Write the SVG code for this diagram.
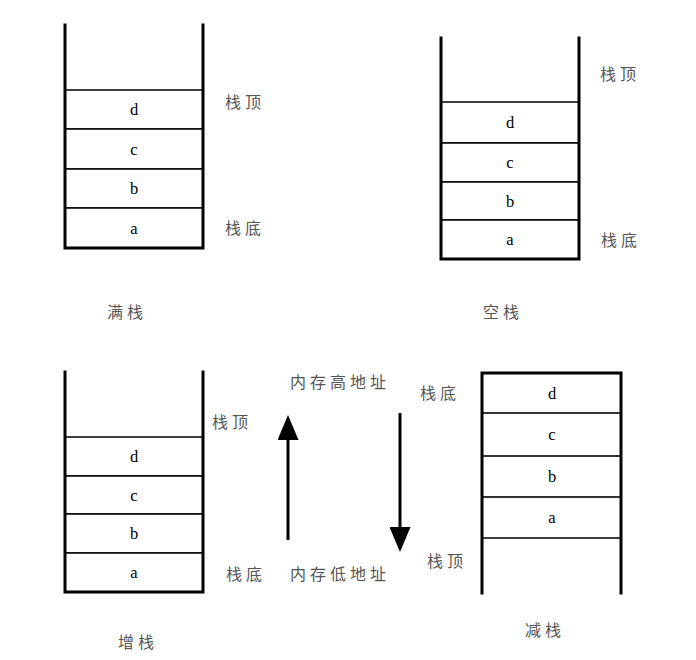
<svg xmlns="http://www.w3.org/2000/svg" width="696" height="660" viewBox="0 0 696 660">
<defs>
<style>
.wall{stroke:#000;stroke-width:3;fill:none;stroke-linecap:square}
.cell{fill:#fff;stroke:#000;stroke-width:1.5}
.sep{stroke:#333;stroke-width:2.2}
.let{font-family:"Liberation Serif","Times New Roman",serif;font-size:16.5px;fill:#000;text-anchor:middle}
.lab{font-family:"Noto Sans CJK SC","Noto Sans CJK JP",sans-serif;font-size:16px;fill:#555;letter-spacing:4px}
.arr{stroke:#000;stroke-width:3;fill:none}
</style>
<marker id="head" viewBox="0 0 25 21" markerWidth="25" markerHeight="21" refX="0" refY="10.5" orient="auto" markerUnits="userSpaceOnUse">
<path d="M0,0 L25,10.5 L0,21 z" fill="#000"/>
</marker>
</defs>
<rect width="696" height="660" fill="#fff"/>

<g id="full-stack">
<rect class="cell" x="65" y="90" width="138" height="39"/>
<rect class="cell" x="65" y="129" width="138" height="40"/>
<rect class="cell" x="65" y="169" width="138" height="39"/>
<rect class="cell" x="65" y="208" width="138" height="40"/>
<path class="wall" d="M65,25 V248 H203 V25"/>
<text class="let" x="134" y="115">d</text>
<text class="let" x="134" y="155">c</text>
<text class="let" x="134" y="194">b</text>
<text class="let" x="134" y="234">a</text>
<text class="lab" x="225" y="108">栈顶</text>
<text class="lab" x="225" y="234">栈底</text>
<text class="lab" x="107" y="318">满栈</text>
</g>

<g id="empty-stack">
<rect class="cell" x="441" y="102" width="138" height="41"/>
<rect class="cell" x="441" y="143" width="138" height="39"/>
<rect class="cell" x="441" y="182" width="138" height="38"/>
<rect class="cell" x="441" y="220" width="138" height="39"/>
<path class="wall" d="M441,38 V259 H579 V38"/>
<text class="let" x="510" y="128">d</text>
<text class="let" x="510" y="168">c</text>
<text class="let" x="510" y="207">b</text>
<text class="let" x="510" y="245">a</text>
<text class="lab" x="600" y="80">栈顶</text>
<text class="lab" x="601" y="246">栈底</text>
<text class="lab" x="483" y="318">空栈</text>
</g>

<g id="ascending-stack">
<rect class="cell" x="65" y="437" width="138" height="39"/>
<rect class="cell" x="65" y="476" width="138" height="38"/>
<rect class="cell" x="65" y="514" width="138" height="39"/>
<rect class="cell" x="65" y="553" width="138" height="39"/>
<path class="wall" d="M65,372 V592 H203 V372"/>
<text class="let" x="134" y="462">d</text>
<text class="let" x="134" y="501">c</text>
<text class="let" x="134" y="539">b</text>
<text class="let" x="134" y="578">a</text>
<text class="lab" x="212" y="428">栈顶</text>
<text class="lab" x="226" y="580">栈底</text>
<text class="lab" x="118" y="648">增栈</text>
</g>

<g id="descending-stack">
<rect class="cell" x="482" y="373" width="139" height="40"/>
<rect class="cell" x="482" y="413" width="139" height="43"/>
<rect class="cell" x="482" y="456" width="139" height="41"/>
<rect class="cell" x="482" y="497" width="139" height="41"/>
<line class="sep" x1="482" y1="413" x2="621" y2="413"/>
<line class="sep" x1="482" y1="456" x2="621" y2="456"/>
<line class="sep" x1="482" y1="497" x2="621" y2="497"/>
<path class="wall" d="M482,593 V373 H621 V593"/>
<text class="let" x="552" y="399">d</text>
<text class="let" x="552" y="440">c</text>
<text class="let" x="552" y="482">b</text>
<text class="let" x="552" y="523">a</text>
<text class="lab" x="420" y="399">栈底</text>
<text class="lab" x="427" y="567">栈顶</text>
<text class="lab" x="525" y="636">减栈</text>
</g>

<g id="address-labels">
<text class="lab" x="290" y="388">内存高地址</text>
<text class="lab" x="290" y="580">内存低地址</text>
</g>

<g id="connectors">
<line class="arr" x1="288" y1="540" x2="288" y2="440" marker-end="url(#head)"/>
<line class="arr" x1="400" y1="413" x2="400" y2="527" marker-end="url(#head)"/>
</g>
</svg>
